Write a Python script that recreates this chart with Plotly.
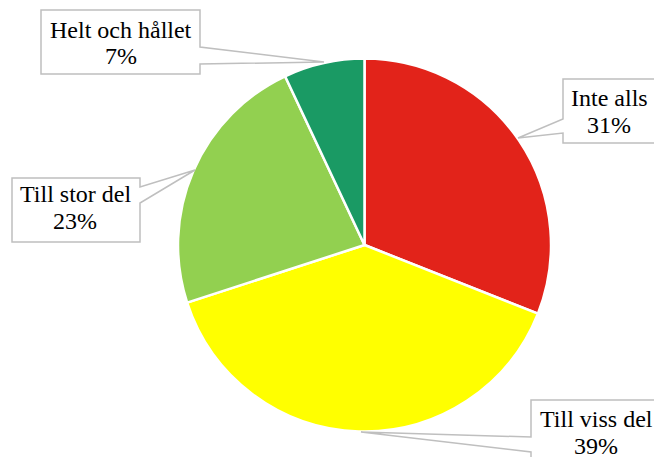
import plotly.graph_objects as go

categories = ["Inte alls", "Till viss del", "Till stor del", "Helt och hållet"]
values = [31, 39, 23, 7]
colors = ["#E2231A", "#FFFF00", "#92D050", "#1A9A64"]

W, H = 654, 457

fig = go.Figure()
fig.add_trace(go.Pie(
    labels=categories,
    values=values,
    sort=False,
    direction="clockwise",
    rotation=0,
    marker=dict(colors=colors, line=dict(color="white", width=2.5)),
    textinfo="none",
    hoverinfo="label+percent",
    showlegend=False,
    domain=dict(x=[178 / W, 551 / W], y=[1 - 432 / H, 1 - 58 / H]),
))

# callout boxes (pixel coordinates on a hidden axis)
callouts = [
    # (path, text x, line1 middle y, line2 middle y, category index)
    ("M41,10 L200,10 L200,47 L324,62 L200,64 L200,74 L41,74 Z", 121, 30, 56, 3),
    ("M563,79 L662,79 L662,143 L563,143 L563,133 L518,138 L563,119 Z", 609, 98, 125, 0),
    ("M12,178 L140,178 L140,187 L195,170 L140,203 L140,242 L12,242 Z", 75, 194, 221, 2),
    ("M531,400 L662,400 L662,470 L531,470 L531,452 L361,432 L531,437 Z", 596, 419, 446, 1),
]
total = sum(values)
font = dict(family="Liberation Serif", size=24, color="black")
for path, tx, y1, y2, idx in callouts:
    fig.add_shape(type="path", path=path, xref="x", yref="y",
                  fillcolor="white", line=dict(color="#BFBFBF", width=1.5), layer="above")
    pct = round(values[idx] / total * 100)
    fig.add_annotation(x=tx, y=y1, xref="x", yref="y", text=categories[idx],
                       showarrow=False, font=font, xanchor="center", yanchor="middle")
    fig.add_annotation(x=tx, y=y2, xref="x", yref="y", text=f"{pct}%",
                       showarrow=False, font=font, xanchor="center", yanchor="middle")

fig.update_layout(
    width=W, height=H,
    margin=dict(l=0, r=0, t=0, b=0),
    paper_bgcolor="white", plot_bgcolor="rgba(0,0,0,0)",
    xaxis=dict(range=[0, W], visible=False, fixedrange=True),
    yaxis=dict(range=[H, 0], visible=False, fixedrange=True),
)

fig.write_html("out.html", config={"displayModeBar": False},
               post_script="document.body.style.margin='0px';document.body.style.overflow='hidden';")
